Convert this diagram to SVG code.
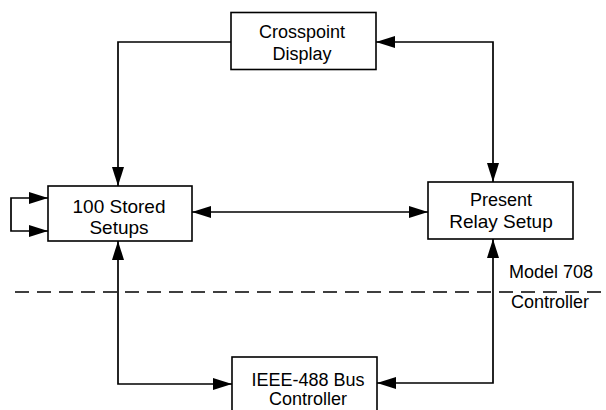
<svg xmlns="http://www.w3.org/2000/svg" width="606" height="410" viewBox="0 0 606 410">
<defs>
<style>
.box{fill:#fff;stroke:#000;stroke-width:1.6}
.ln{fill:none;stroke:#000;stroke-width:1.7}
.dash{fill:none;stroke:#000;stroke-width:1.6;stroke-dasharray:14 8}
text{font-family:"Liberation Sans",Arial,sans-serif;font-size:18px;fill:#000}
.c{text-anchor:middle}
.big{font-size:19px}
</style>
<marker id="ah" viewBox="0 0 19 12" refX="19" refY="6" markerWidth="19" markerHeight="12" markerUnits="userSpaceOnUse" orient="auto-start-reverse">
<path d="M0,0 L19,6 L0,12 z" fill="#000"/>
</marker>
</defs>
<rect width="606" height="410" fill="#fff"/>
<g id="connectors">
<path class="ln" d="M231,42 H118 V186" marker-end="url(#ah)"/>
<path class="ln" d="M376,42 H493 V182" marker-start="url(#ah)" marker-end="url(#ah)"/>
<path class="ln" d="M192,212 H428" marker-start="url(#ah)" marker-end="url(#ah)"/>
<path class="ln" d="M118,241 V384 H232" marker-start="url(#ah)" marker-end="url(#ah)"/>
<path class="ln" d="M493,239 V383 H377" marker-start="url(#ah)" marker-end="url(#ah)"/>
<path class="ln" d="M48,198 H11 V231 H48" marker-start="url(#ah)" marker-end="url(#ah)"/>
<path class="dash" d="M15,292 H606"/>
</g>
<g id="crosspoint">
<rect class="box" x="231" y="12.5" width="145" height="57"/>
<text class="c" x="302" y="38">Crosspoint</text>
<text class="c" x="302" y="60">Display</text>
</g>
<g id="stored">
<rect class="box" x="48" y="186" width="144" height="55"/>
<text class="c big" x="119" y="213">100 Stored</text>
<text class="c big" x="119" y="234">Setups</text>
</g>
<g id="present">
<rect class="box" x="428" y="182" width="145" height="57"/>
<text class="c" x="501" y="206">Present</text>
<text class="c big" x="501" y="228">Relay Setup</text>
</g>
<g id="ieee">
<rect class="box" x="232" y="357" width="145" height="60"/>
<text class="c" x="308" y="386">IEEE-488 Bus</text>
<text class="c" x="308" y="405">Controller</text>
</g>
<g id="labels">
<text x="509" y="278">Model 708</text>
<text x="511" y="308">Controller</text>
</g>
</svg>
